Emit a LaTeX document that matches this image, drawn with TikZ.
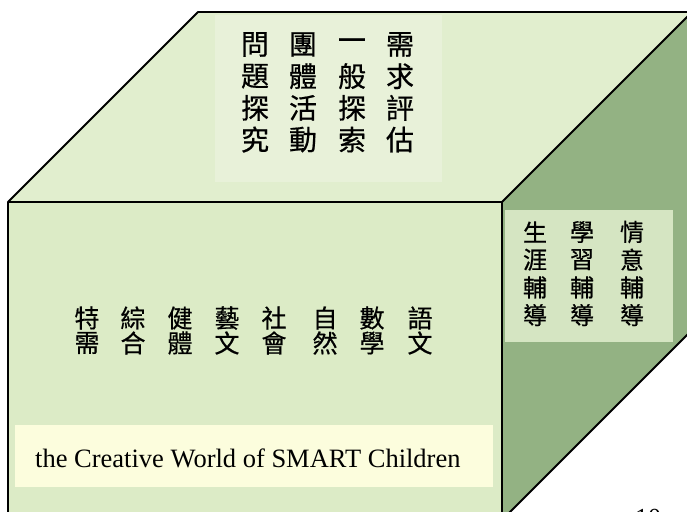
\documentclass[tikz,border=0pt]{standalone}
\usepackage{fontspec}
\setmainfont{Liberation Serif}
\newfontfamily\cjk[FakeBold=0.6]{Noto Sans CJK TC}
\usepackage{xcolor}

\definecolor{frontgreen}{HTML}{DCEBC6}
\definecolor{topgreen}{HTML}{E1EECE}
\definecolor{sidegreen}{HTML}{93B283}
\definecolor{topbox}{HTML}{E8F1D9}
\definecolor{sidebox}{HTML}{D5E5C2}
\definecolor{namebox}{HTML}{FCFDDD}

\begin{document}
\begin{tikzpicture}[x=1pt, y=-1pt,
        edge/.style={line width=1.8pt, line join=round},
        toptext/.style={inner sep=0pt, font=\cjk\fontsize{28}{28}\selectfont},
        fronttext/.style={inner sep=0pt, font=\cjk\fontsize{25}{25}\selectfont},
        sidetext/.style={inner sep=0pt, font=\cjk\fontsize{24}{24}\selectfont}]
        \useasboundingbox (0, 0) rectangle (687, 511);

        % corners of the cube
        \coordinate (ftl) at (8, 202);
        \coordinate (ftr) at (502, 202);
        \coordinate (fbl) at (8, 530);
        \coordinate (fbr) at (502, 520);
        \coordinate (btl) at (198, 12);
        \coordinate (btr) at (692, 12);
        \coordinate (bbr) at (692, 330);

        \fill [frontgreen] (ftl) -- (ftr) -- (fbr) -- (fbl) -- cycle;
        \fill [topgreen] (ftl) -- (btl) -- (btr) -- (ftr) -- cycle;
        \fill [sidegreen] (ftr) -- (btr) -- (bbr) -- (fbr) -- cycle;

        \fill [topbox] (215, 15) rectangle (442, 182);
        \fill [sidebox] (505, 210) rectangle (673, 342);
        \fill [namebox] (15, 425) rectangle (493, 487);

        \draw [edge] (fbl) -- (ftl) -- (btl) -- (btr);
        \draw [edge] (ftl) -- (ftr) -- (btr);
        \draw [edge] (ftr) -- (fbr) -- (bbr);

        % top face, one column per item
        \foreach \i/\x/\txt in
        {
            1/255/{問,題,探,究},
            2/303/{團,體,活,動},
            3/352/{一,般,探,索},
            4/400/{需,求,評,估}%
        }
        {
            \foreach \ch [count=\r] in \txt
                \node [toptext] (t\i-\r) at (\x, 12.8 + 31.7*\r) {\ch};
        }

        % front face
        \foreach \i/\x/\txt in
        {
            1/87/{特,需},
            2/133/{綜,合},
            3/180/{健,體},
            4/227/{藝,文},
            5/274/{社,會},
            6/325/{自,然},
            7/372/{數,學},
            8/420/{語,文}%
        }
        {
            \foreach \ch [count=\r] in \txt
                \node [fronttext] (f\i-\r) at (\x, 293 + 25*\r) {\ch};
        }

        % side face
        \foreach \i/\x/\txt in
        {
            1/535/{生,涯,輔,導},
            2/582/{學,習,輔,導},
            3/632/{情,意,輔,導}%
        }
        {
            \foreach \ch [count=\r] in \txt
                \node [sidetext] (s\i-\r) at (\x, 204.3 + 27.7*\r) {\ch};
        }

        \node [font=\fontsize{26.5}{30}\selectfont, anchor=base west, inner sep=0pt] (title) at (35, 467) {the Creative World of SMART Children};
        \node [font=\fontsize{26}{30}\selectfont, anchor=base, inner sep=0pt] (page) at (648, 526) {10};
\end{tikzpicture}
\end{document}
